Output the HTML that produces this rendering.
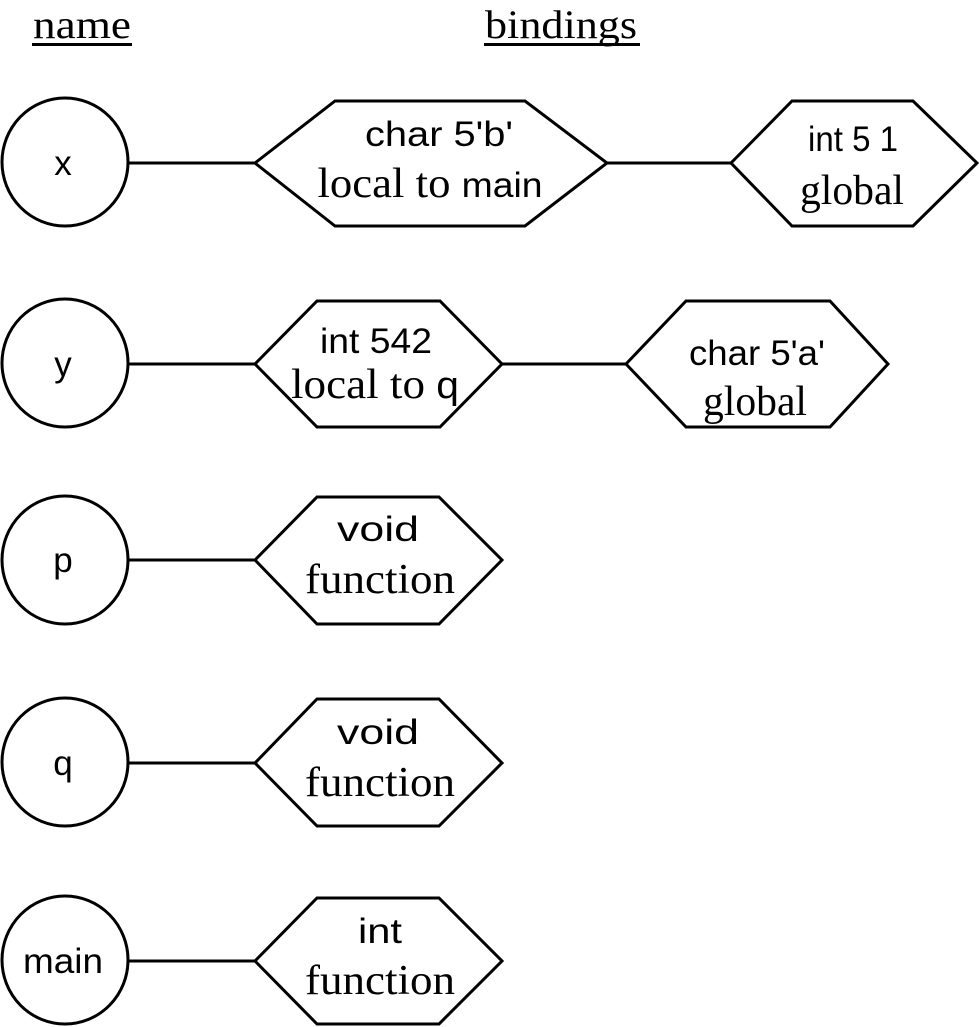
<!DOCTYPE html>
<html><head><meta charset="utf-8"><style>html,body{margin:0;padding:0;background:#fff}svg{display:block}</style></head>
<body>
<svg width="979" height="1027" viewBox="0 0 979 1027" xmlns="http://www.w3.org/2000/svg">
<g font-family="Liberation Serif, serif" font-size="40" fill="#000">
<text x="82" y="38" text-anchor="middle" textLength="98" lengthAdjust="spacingAndGlyphs">name</text>
<text x="561" y="38" text-anchor="middle" textLength="152" lengthAdjust="spacingAndGlyphs">bindings</text>
</g>
<rect x="32" y="43" width="100" height="3" fill="#000"/>
<rect x="484" y="43" width="156" height="3" fill="#000"/>
<g fill="none" stroke="#000" stroke-width="3">
<ellipse cx="65" cy="162" rx="63" ry="64"/>
<ellipse cx="65" cy="363" rx="63" ry="64"/>
<ellipse cx="65" cy="560" rx="63" ry="64"/>
<ellipse cx="65" cy="762" rx="63" ry="64"/>
<ellipse cx="65" cy="960" rx="63" ry="64"/>
<line x1="129" y1="163" x2="255" y2="163"/>
<line x1="607" y1="163" x2="731" y2="163"/>
<line x1="129" y1="364" x2="255" y2="364"/>
<line x1="502" y1="364" x2="626" y2="364"/>
<line x1="129" y1="560" x2="255" y2="560"/>
<line x1="129" y1="763" x2="255" y2="763"/>
<line x1="129" y1="961" x2="255" y2="961"/>
<polygon points="255,163 335,101 525,101 607,163 525,226 335,226"/>
<polygon points="731,163 792,101 913,101 977,163 913,226 792,226"/>
<polygon points="255,364 317,301 440,301 502,364 440,427 317,427"/>
<polygon points="626,364 686,301 830,301 888,364 830,427 686,427"/>
<polygon points="255,560 317,497 439,497 502,560 439,624 317,624"/>
<polygon points="255,763 317,699 439,699 502,763 439,826 317,826"/>
<polygon points="255,961 317,898 439,898 502,961 439,1024 317,1024"/>
</g>
<g font-family="Liberation Sans, sans-serif" font-size="35" fill="#000" text-anchor="middle">
<text x="63" y="175">x</text>
<text x="63" y="376">y</text>
<text x="63" y="572">p</text>
<text x="63" y="775">q</text>
<text x="63" y="973" textLength="80" lengthAdjust="spacingAndGlyphs">main</text>
<text x="439" y="146" textLength="148" lengthAdjust="spacingAndGlyphs">char 5'b'</text>
<text x="853" y="151" textLength="90" lengthAdjust="spacingAndGlyphs">int 5 1</text>
<text x="376" y="353" textLength="112" lengthAdjust="spacingAndGlyphs">int 542</text>
<text x="757" y="365" textLength="136" lengthAdjust="spacingAndGlyphs">char 5'a'</text>
<text x="378" y="541" textLength="82" lengthAdjust="spacingAndGlyphs">void</text>
<text x="378" y="744" textLength="82" lengthAdjust="spacingAndGlyphs">void</text>
<text x="380" y="943" textLength="44" lengthAdjust="spacingAndGlyphs">int</text>
</g>
<g font-family="Liberation Serif, serif" font-size="42" fill="#000" text-anchor="middle">
<text x="430" y="197" textLength="225" lengthAdjust="spacingAndGlyphs">local to <tspan font-family="Liberation Sans, sans-serif" font-size="35">main</tspan></text>
<text x="852" y="204" textLength="104" lengthAdjust="spacingAndGlyphs">global</text>
<text x="375" y="398" textLength="168" lengthAdjust="spacingAndGlyphs">local to <tspan font-family="Liberation Sans, sans-serif" font-size="38">q</tspan></text>
<text x="755" y="415" textLength="104" lengthAdjust="spacingAndGlyphs">global</text>
<text x="380" y="593" textLength="150" lengthAdjust="spacingAndGlyphs">function</text>
<text x="380" y="796" textLength="150" lengthAdjust="spacingAndGlyphs">function</text>
<text x="380" y="994" textLength="150" lengthAdjust="spacingAndGlyphs">function</text>
</g>
</svg>
</body></html>
